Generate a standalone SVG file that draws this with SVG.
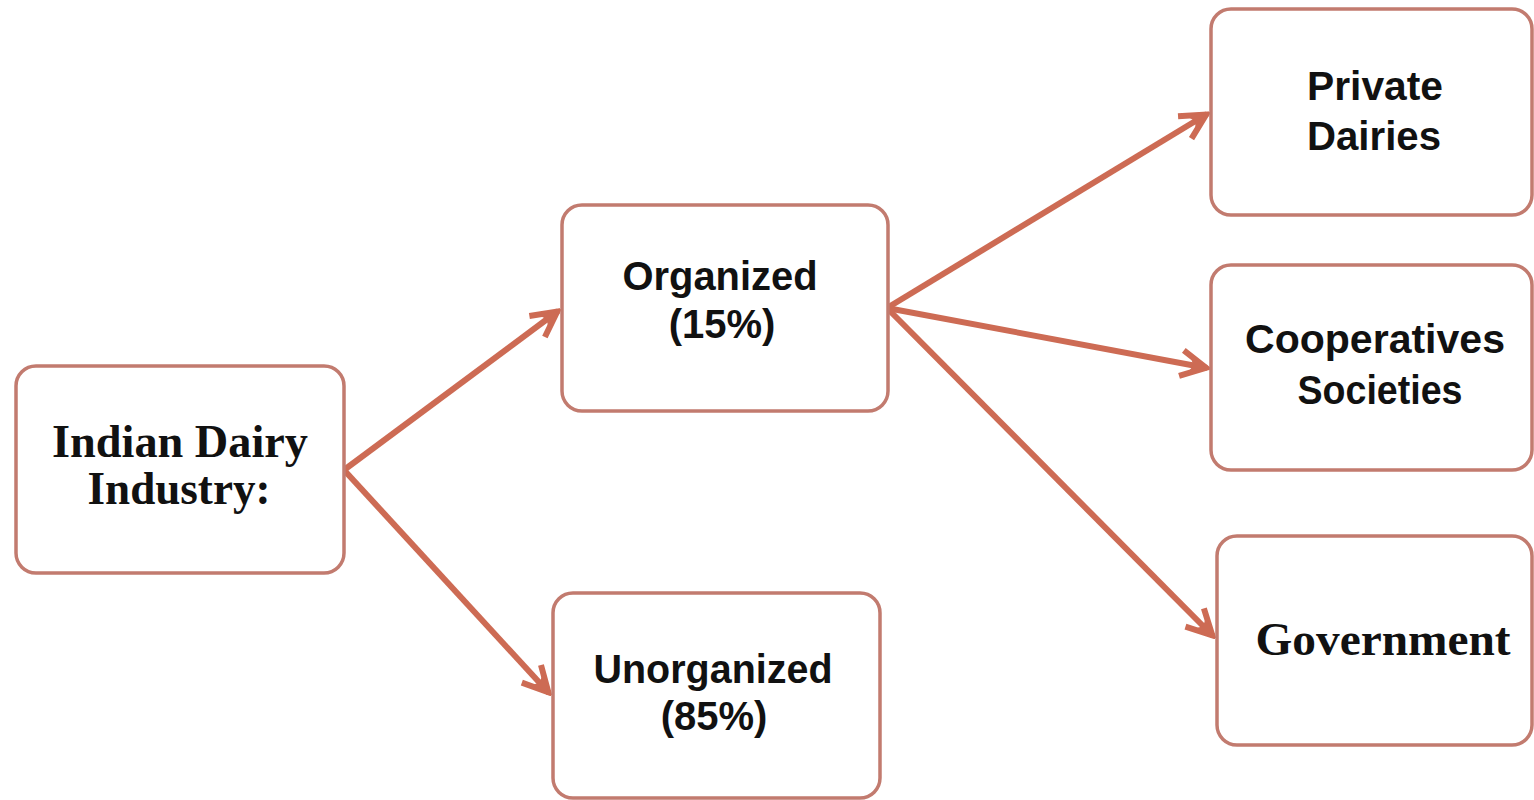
<svg xmlns="http://www.w3.org/2000/svg" width="1534" height="800" viewBox="0 0 1534 800">
<style>
.box{fill:#ffffff;stroke:#c27b6f;stroke-width:3.5}
.sans{font-family:"Liberation Sans",Arial,sans-serif;font-weight:bold;font-size:40px;fill:#111;text-anchor:middle}
.serif{font-family:"Liberation Serif","Times New Roman",serif;font-weight:bold;font-size:46px;fill:#111;text-anchor:middle}
.conn{stroke:#cd6b54;stroke-width:6;fill:none;marker-end:url(#arr)}
</style>
<defs>
<marker id="arr" viewBox="-32 -18 36 36" markerWidth="36" markerHeight="36" refX="1" refY="0" orient="auto" markerUnits="userSpaceOnUse">
<path d="M-25,-13 L0,0 L-25,13" fill="none" stroke="#cd6b54" stroke-width="6" stroke-linejoin="miter"/>
<path d="M0,0 L-18,-10 L-13,0 L-18,10 Z" fill="#cd6b54"/>
</marker>
</defs>
<rect width="1534" height="800" fill="#ffffff"/>
<g id="connectors">
<line class="conn" x1="344" y1="470" x2="558" y2="311"/>
<line class="conn" x1="344" y1="470" x2="549" y2="693"/>
<line class="conn" x1="887" y1="308" x2="1207" y2="114"/>
<line class="conn" x1="887" y1="308" x2="1207" y2="368"/>
<line class="conn" x1="887" y1="308" x2="1213" y2="636"/>
</g>
<g id="indian">
<rect class="box" x="16" y="366" width="328" height="207" rx="20"/>
<text class="serif" x="180" y="457" textLength="256" lengthAdjust="spacingAndGlyphs">Indian Dairy</text>
<text class="serif" x="179" y="504" textLength="183" lengthAdjust="spacingAndGlyphs">Industry:</text>
</g>
<g id="organized">
<rect class="box" x="562" y="205" width="326" height="206" rx="20"/>
<text class="sans" x="720" y="290" textLength="195" lengthAdjust="spacingAndGlyphs">Organized</text>
<text class="sans" x="722" y="338">(15%)</text>
</g>
<g id="unorganized">
<rect class="box" x="553" y="593" width="327" height="205" rx="20"/>
<text class="sans" x="713" y="683" textLength="239" lengthAdjust="spacingAndGlyphs">Unorganized</text>
<text class="sans" x="714" y="730">(85%)</text>
</g>
<g id="private">
<rect class="box" x="1211" y="9" width="321" height="206" rx="20"/>
<text class="sans" x="1375" y="100" textLength="136" lengthAdjust="spacingAndGlyphs">Private</text>
<text class="sans" x="1374" y="150" textLength="134" lengthAdjust="spacingAndGlyphs">Dairies</text>
</g>
<g id="cooperatives">
<rect class="box" x="1211" y="265" width="321" height="205" rx="20"/>
<text class="sans" x="1375" y="353" textLength="260" lengthAdjust="spacingAndGlyphs">Cooperatives</text>
<text class="sans" x="1380" y="404" textLength="165" lengthAdjust="spacingAndGlyphs">Societies</text>
</g>
<g id="government">
<rect class="box" x="1217" y="536" width="315" height="209" rx="20"/>
<text class="serif" x="1383" y="655" font-size="48" textLength="255" lengthAdjust="spacingAndGlyphs">Government</text>
</g>
</svg>
